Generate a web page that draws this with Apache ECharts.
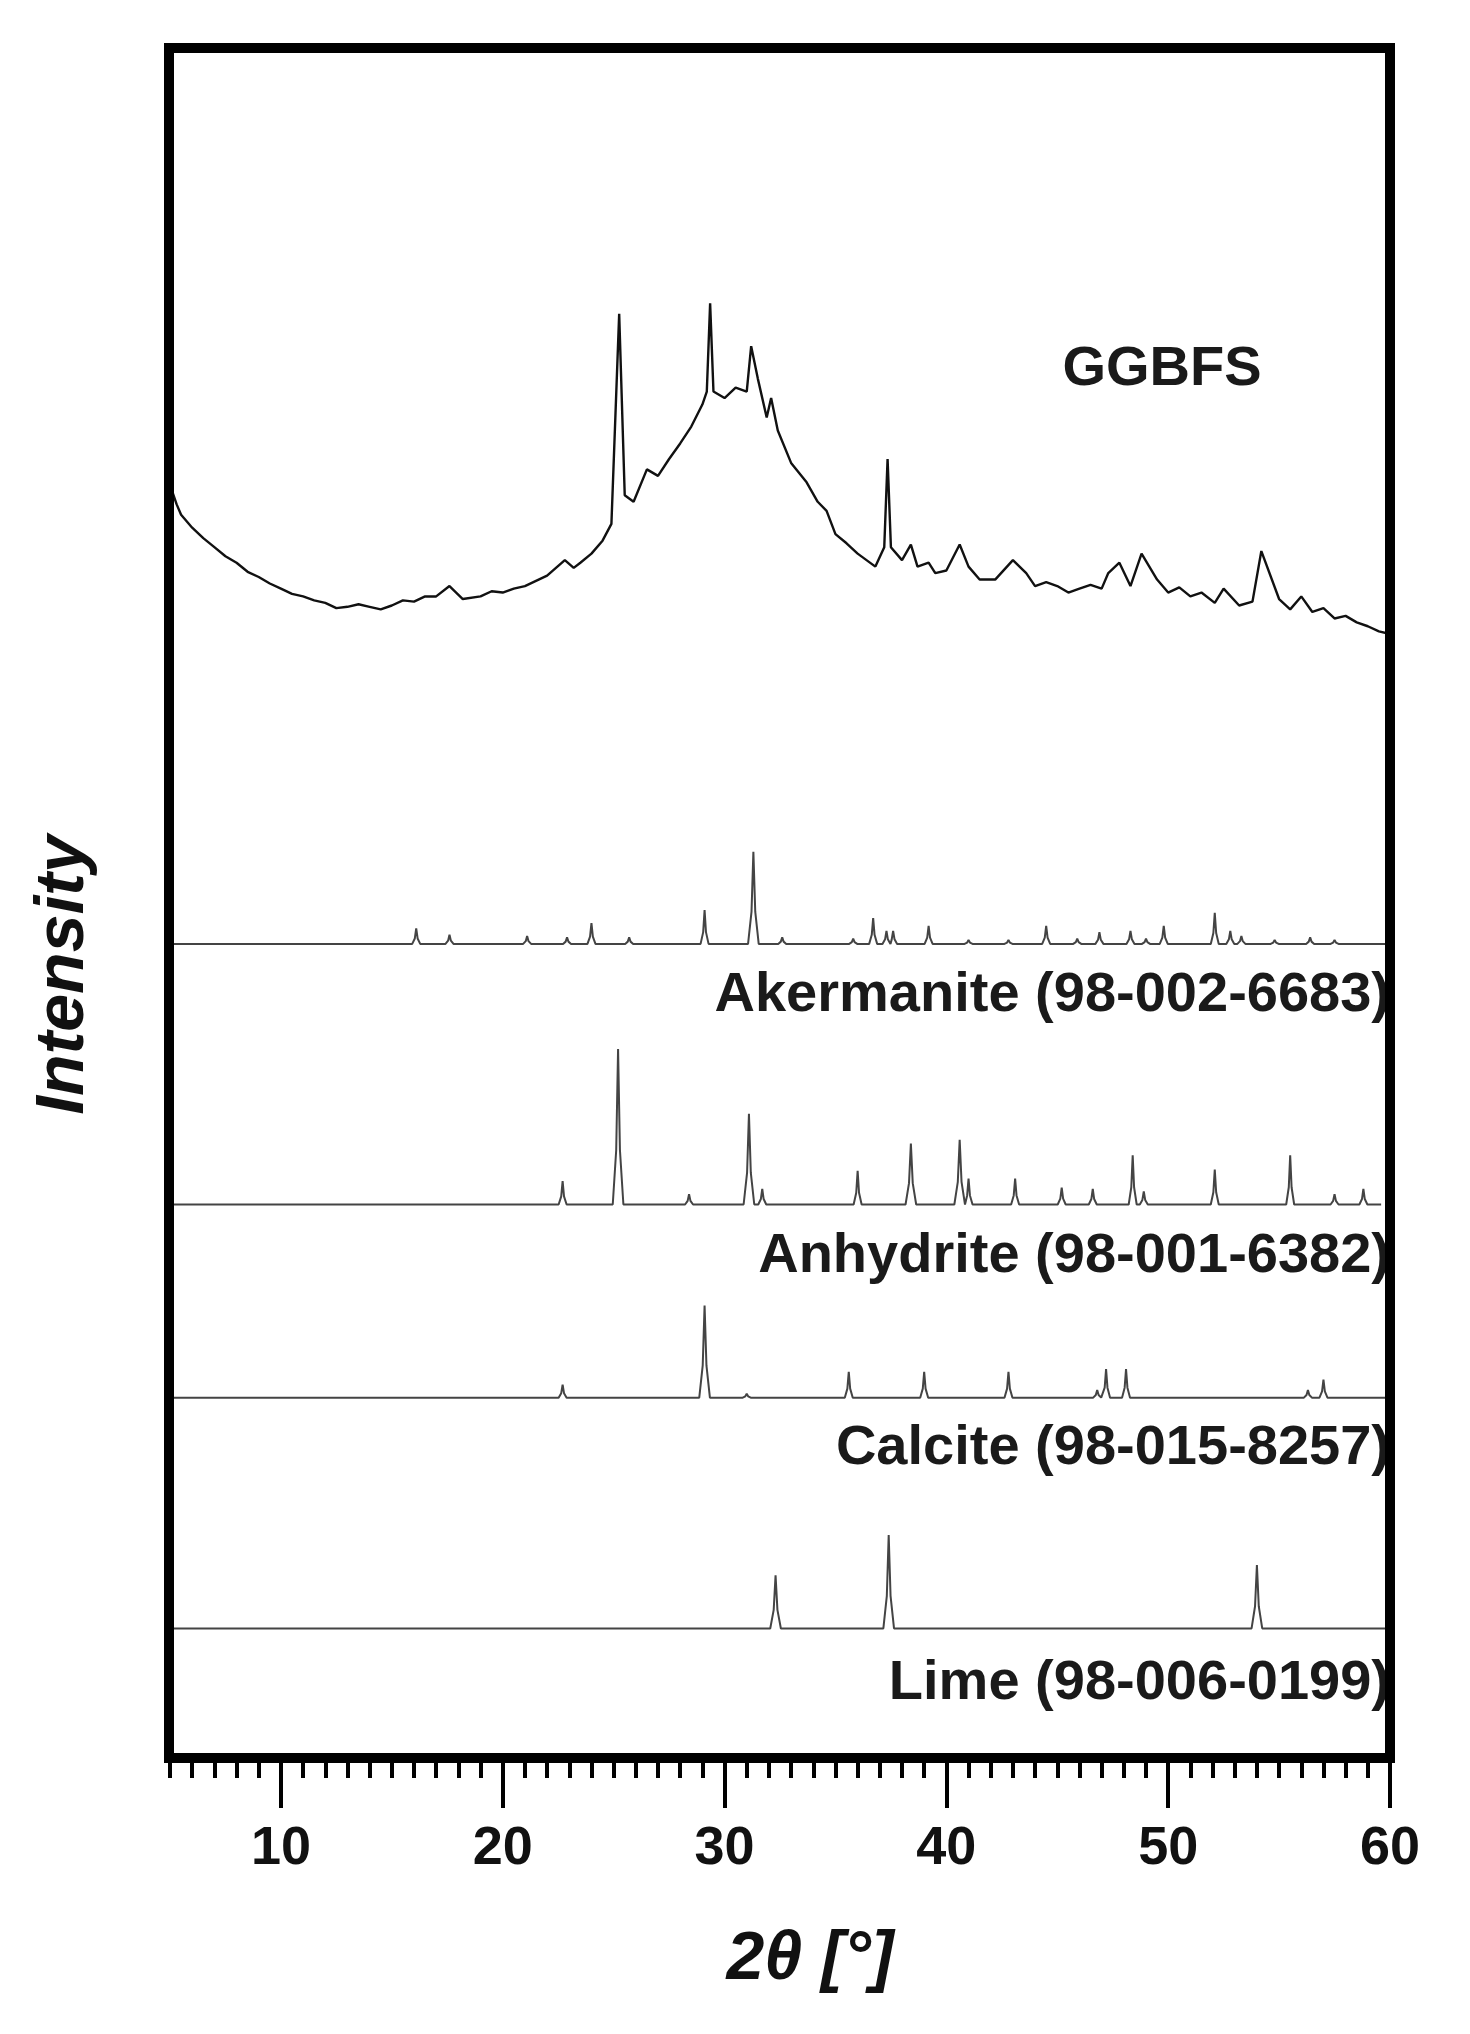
<!DOCTYPE html>
<html><head><meta charset="utf-8">
<script src="https://cdn.jsdelivr.net/npm/echarts@6/dist/echarts.min.js"></script>
<style>html,body{margin:0;background:#fff}#chart{width:1470px;height:2034px}</style>
</head><body><div id="chart"></div>
<script>
// measured pattern of the slag (2theta, intensity)
const ggbfsTheta = [5.0,5.3,5.5,6,6.5,7,7.5,8,8.5,9,9.5,10,10.5,11,11.5,12,12.5,13,13.5,14,14.5,15,15.5,16,16.5,17,17.6,18.2,19,19.5,20,20.5,21,21.5,22,22.8,23.2,23.5,24,24.5,24.9,25.25,25.5,25.9,26.5,27,27.5,28,28.5,29,29.2,29.35,29.5,30,30.5,31.0,31.2,31.5,31.9,32.1,32.4,33,33.7,34.2,34.6,35,35.5,36,36.8,37.2,37.35,37.5,38,38.4,38.7,39.2,39.5,40,40.6,41,41.5,42.2,43,43.6,44,44.5,45,45.5,46,46.5,47,47.3,47.8,48.3,48.8,49.5,50,50.5,51,51.5,52.1,52.5,53.2,53.8,54.2,55,55.5,56,56.5,57,57.5,58,58.5,59,59.5,60];
const ggbfsInt   = [985,970,962,952,944,937,930,925,918,914,909,905,901,899,896,894,890,891,893,891,889,892,896,895,899,899,907,897,899,903,902,905,907,911,915,927,921,925,932,942,955,1117,977,972,997,992,1005,1017,1030,1047,1057,1125,1057,1052,1060,1057,1092,1067,1037,1052,1027,1002,987,972,965,947,940,932,922,937,1005,937,927,939,922,925,917,919,939,922,912,912,927,917,907,910,907,902,905,908,905,917,925,907,932,912,902,906,899,902,894,905,892,895,934,897,889,899,887,890,882,884,879,876,872,870,867];

const akermanitePeaks = [[16.1,12],[17.6,7],[21.1,6],[22.9,5],[24.0,16],[25.7,5],[29.1,26],[31.3,71],[32.6,5],[35.8,4],[36.7,20],[37.3,10],[37.6,10],[39.2,14],[41.0,3],[42.8,3],[44.5,14],[45.9,4],[46.9,9],[48.3,10],[49.0,4],[49.8,14],[52.1,24],[52.8,10],[53.3,6],[54.8,3],[56.4,5],[57.5,3]];
const anhydritePeaks = [[22.7,18],[25.2,120],[28.4,8],[31.1,70],[31.7,12],[36.0,26],[38.4,47],[40.6,50],[41.0,20],[43.1,20],[45.2,13],[46.6,12],[48.4,38],[48.9,10],[52.1,27],[55.5,38],[57.5,8],[58.8,12]];
const calcitePeaks = [[22.7,10],[29.1,71],[31.0,3],[35.6,20],[39.0,20],[42.8,20],[46.8,6],[47.2,22],[48.1,22],[56.3,6],[57.0,14]];
const limePeaks = [[32.3,41],[37.4,72],[54.0,49]];
const thetaMin = 5, thetaMax = 60;

// baseline level of each stacked reference and its theta span
const refs = [
  {name:'Akermanite (98-002-6683)', peaks:akermanitePeaks, base:631, from:5, to:60, labelY:996},
  {name:'Anhydrite (98-001-6382)', peaks:anhydritePeaks, base:430, from:5, to:59.6, labelY:1257},
  {name:'Calcite (98-015-8257)', peaks:calcitePeaks, base:281, from:5, to:59.8, labelY:1449},
  {name:'Lime (98-006-0199)', peaks:limePeaks, base:103, from:5, to:60, labelY:1684}
];

function stickPattern(r) {
  const pts = [[r.from, r.base]];
  r.peaks.forEach(([t, h]) => {
    const w = h > 40 ? 0.24 : 0.18;
    pts.push([t - w, r.base], [t - w * 0.35, r.base + h * 0.35], [t, r.base + h], [t + w * 0.35, r.base + h * 0.35], [t + w, r.base]);
  });
  pts.push([r.to, r.base]);
  return pts;
}

const chart = echarts.init(document.getElementById('chart'));
const series = [{
  type:'line', data: ggbfsTheta.map((t, i) => [t, ggbfsInt[i]]), showSymbol:false,
  lineStyle:{color:'#111', width:2.4}
}].concat(refs.map(r => ({
  type:'line', data: stickPattern(r), showSymbol:false,
  lineStyle:{color:'#444', width:2}
})));

const font = '"Liberation Sans", Arial, sans-serif';
const lbl = {font:'bold 56px ' + font, fill:'#1a1a1a'};
chart.setOption({
  animation:false,
  grid:{left:170, right:80, top:48, height:1714},
  xAxis:[{type:'value', min:thetaMin, max:thetaMax, interval:1, position:'bottom',
    axisLine:{show:false}, splitLine:{show:false},
    axisTick:{show:true, length:16, lineStyle:{color:'#000', width:4}},
    axisLabel:{show:false}
  }, {
    // mirrored helper axis: ticks counted from 5 in steps of 10 land on 60, 50, ... 10
    type:'value', min:thetaMin, max:thetaMax, interval:10, inverse:true, position:'bottom',
    axisLine:{show:false}, splitLine:{show:false},
    axisTick:{show:true, length:46, lineStyle:{color:'#000', width:4}},
    axisLabel:{margin:60, color:'#111', fontSize:54, fontWeight:'bold', fontFamily:'Liberation Sans',
      showMinLabel:true, showMaxLabel:false,
      formatter: v => (v >= thetaMax ? '' : String(thetaMin + thetaMax - v))}
  }],
  yAxis:{type:'value', min:0, max:1322, show:false},
  series: series,
  graphic:[
    {type:'rect', shape:{x:169, y:48, width:1221, height:1710}, style:{fill:'none', stroke:'#000', lineWidth:10}, z:100},
    {type:'text', x:1162, y:370, style:Object.assign({text:'GGBFS', textAlign:'center', textVerticalAlign:'middle'}, lbl)},
    ...refs.map(r => ({type:'text', x:1390, y:r.labelY, style:Object.assign({text:r.name, textAlign:'right', textVerticalAlign:'middle'}, lbl)})),
    {type:'text', x:810, y:1960, style:{text:'2θ [°]', textAlign:'center', textVerticalAlign:'middle', font:'italic bold 68px ' + font, fill:'#111'}},
    {type:'text', x:64, y:975, rotation:Math.PI/2, style:{text:'Intensity', textAlign:'center', textVerticalAlign:'middle', font:'italic bold 68px ' + font, fill:'#111'}}
  ]
});
</script></body></html>
